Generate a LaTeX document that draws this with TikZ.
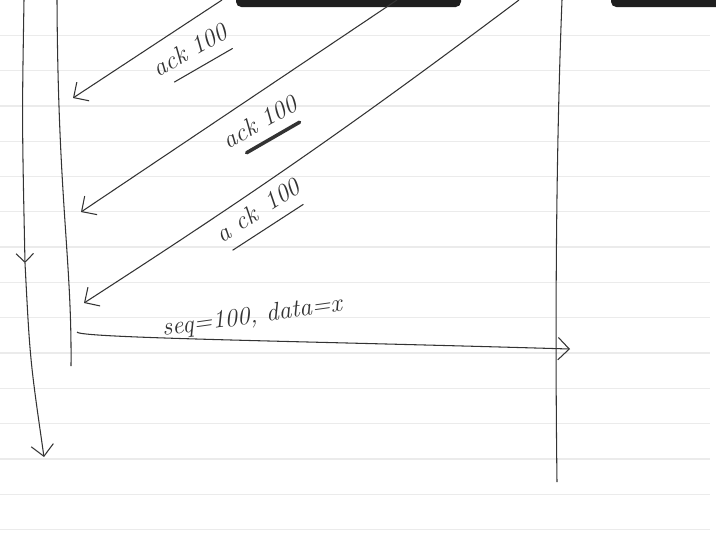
\documentclass[tikz,border=0pt]{standalone}
\usepackage{tikz}
\usetikzlibrary{arrows.meta,calc}

\begin{document}
\begin{tikzpicture}[x=0.02cm,y=-0.02cm,
paper line/.style={draw=black!8,line width=0.7pt},
time line/.style={draw=black!80,line width=0.6pt},
ack line/.style={draw=black!80,line width=0.6pt,-{Straight Barb[angle=90:9pt,line width=0.6pt]}},
hand label/.style={text=black!80,font=\Large\itshape,inner xsep=2pt,inner ysep=6pt},
under line/.style={draw=black!80,line width=0.6pt},
tool bar/.style={fill=black!88,rounded corners=3pt}]
\useasboundingbox (0,0) rectangle (716,539);
\clip (0,0) rectangle (716,539);
\fill[white] (0,0) rectangle (716,539);
% ruled paper
\foreach \k in {1,...,15}
 \draw[paper line] (0,35.3*\k) -- (710,35.3*\k);
% screen toolbars
\fill[tool bar] (236,-8) rectangle (461,7);
\fill[tool bar] (611,-8) rectangle (730,7);
% time lines
\coordinate (l1top) at (24,0);
\coordinate (l1mid) at (25,263);
\coordinate (l1bot) at (44,457);
\coordinate (l2top) at (57,0);
\coordinate (l2bot) at (71,366);
\coordinate (rtop) at (562,0);
\coordinate (rbot) at (557,482);
\draw[time line,-{Straight Barb[angle=90:7pt,line width=0.6pt]}] (l1top) .. controls (22,120) .. (l1mid);
\draw[time line,-{Straight Barb[angle=90:9pt,line width=0.6pt]}] (l1mid) .. controls (30,360) .. (l1bot);
\draw[time line] (l2top) .. controls (58,200) and (72,260) .. (l2bot);
\draw[time line] (rtop) .. controls (556,150) and (555,330) .. (rbot);
% acks coming back
\coordinate (a1from) at (222,0);
\coordinate (a1to) at (73,98);
\coordinate (a2from) at (397,0);
\coordinate (a2to) at (81,212);
\coordinate (a3from) at (519,0);
\coordinate (a3to) at (84,303);
\draw[ack line] (a1from) -- (a1to);
\draw[ack line] (a2from) -- (a2to);
\draw[ack line] (a3from) to[bend left=2] (a3to);
\node[hand label,rotate=30] (ack1) at (190,50) {ack 100};
\node[hand label,rotate=30] (ack2) at (260,122) {ack 100};
\node[hand label,rotate=33] (ack3) at (258,210) {a ck\, 100};
\draw[under line] ($(ack1.south west)!0.17!(ack1.south east)$) -- ($(ack1.south west)!0.92!(ack1.south east)$);
\draw[under line,line width=2pt,line cap=round] ($(ack2.south west)!0.2!(ack2.south east)$) -- ($(ack2.south west)!0.88!(ack2.south east)$);
\draw[under line] ($(ack3.south west)!0.08!(ack3.south east)$) -- ($(ack3.south west)!0.9!(ack3.south east)$);
% new segment sent
\coordinate (sfrom) at (77,332);
\coordinate (sto) at (570,349);
\draw[time line,-{Straight Barb[angle=90:9pt,line width=0.6pt]}] (sfrom) .. controls (78,338) and (300,341) .. (sto);
\node[hand label,rotate=8,inner ysep=2pt] (seq) at (252,317) {seq=100, data=x};
\end{tikzpicture}
\end{document}
